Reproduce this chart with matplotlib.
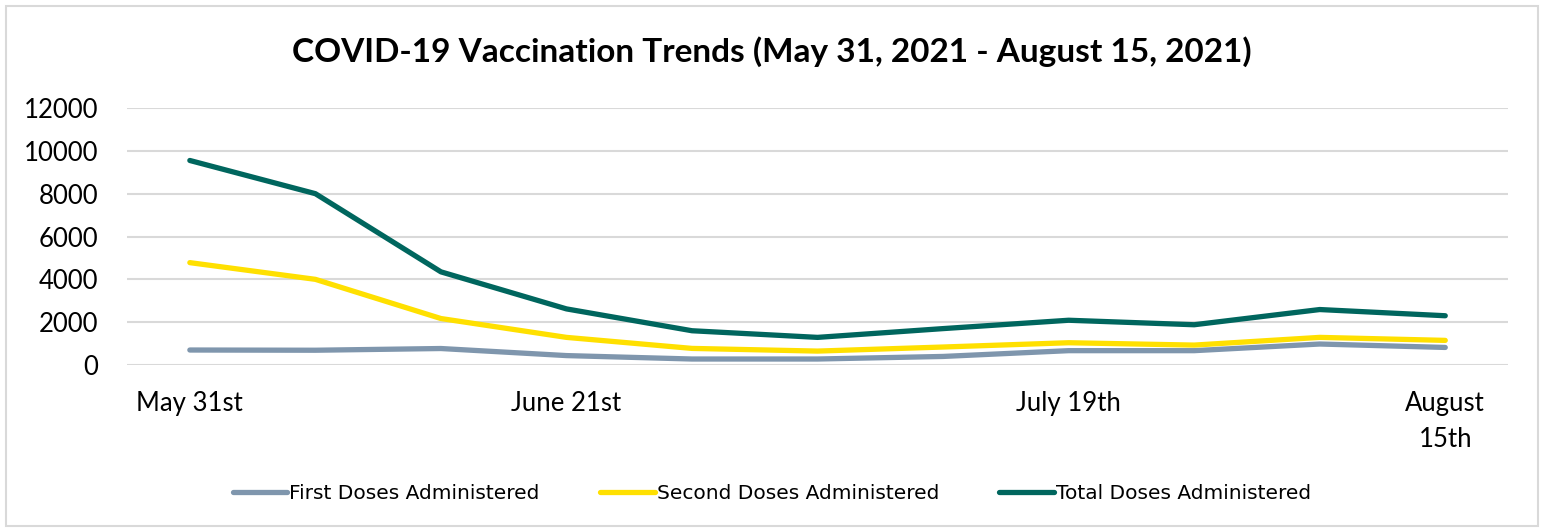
import matplotlib.pyplot as plt
from matplotlib.patches import Rectangle

weeks = ["May 31st", "", "", "June 21st", "", "", "", "July 19th", "", "", "August\n15th"]
first_doses = [700, 690, 770, 440, 280, 280, 400, 670, 670, 980, 820]
second_doses = [4780, 4000, 2170, 1290, 775, 650, 840, 1040, 930, 1290, 1150]
total_doses = [9550, 8000, 4350, 2620, 1600, 1290, 1700, 2090, 1880, 2590, 2300]

plt.rcParams["font.family"] = ["Lato", "DejaVu Sans"]

fig = plt.figure(figsize=(15.44, 5.31), dpi=100)
ax = fig.add_axes([0.0823, 0.3126, 0.8944, 0.484])

x = range(len(weeks))
ax.plot(x, first_doses, color="#7f96ad", lw=3.8, solid_capstyle="round",
        label="First Doses Administered", zorder=3)
ax.plot(x, second_doses, color="#ffe000", lw=3.8, solid_capstyle="round",
        label="Second Doses Administered", zorder=3)
ax.plot(x, total_doses, color="#00665e", lw=3.8, solid_capstyle="round",
        label="Total Doses Administered", zorder=3)

ax.set_xlim(-0.5, len(weeks) - 0.5)
ax.set_ylim(0, 12000)
ax.set_yticks(range(0, 12001, 2000))
ax.set_xticks(list(x))
ax.set_xticklabels(weeks, multialignment="center", linespacing=1.55)
ax.tick_params(axis="both", length=0, labelsize=18.5, colors="black")
ax.tick_params(axis="x", pad=19)
ax.tick_params(axis="y", pad=21)
ax.grid(axis="y", color="#d9d9d9", lw=1.5)
for s in ax.spines.values():
    s.set_visible(False)

fig.text(0.5, 0.902, "COVID-19 Vaccination Trends (May 31, 2021 - August 15, 2021)",
         ha="center", va="center", fontsize=24, fontweight="bold")

fig.legend(loc="center", bbox_to_anchor=(0.5, 0.07), ncol=3, frameon=False,
           handlelength=2.7, columnspacing=3.0, handletextpad=0.1,
           prop={"family": ["Liberation Sans Narrow", "DejaVu Sans"], "size": 14.5})

fig.patches.append(Rectangle((0.004, 0.01), 0.992, 0.978, transform=fig.transFigure,
                             fill=False, edgecolor="#d9d9d9", lw=1.5))

fig.savefig("out.png", dpi=100)
